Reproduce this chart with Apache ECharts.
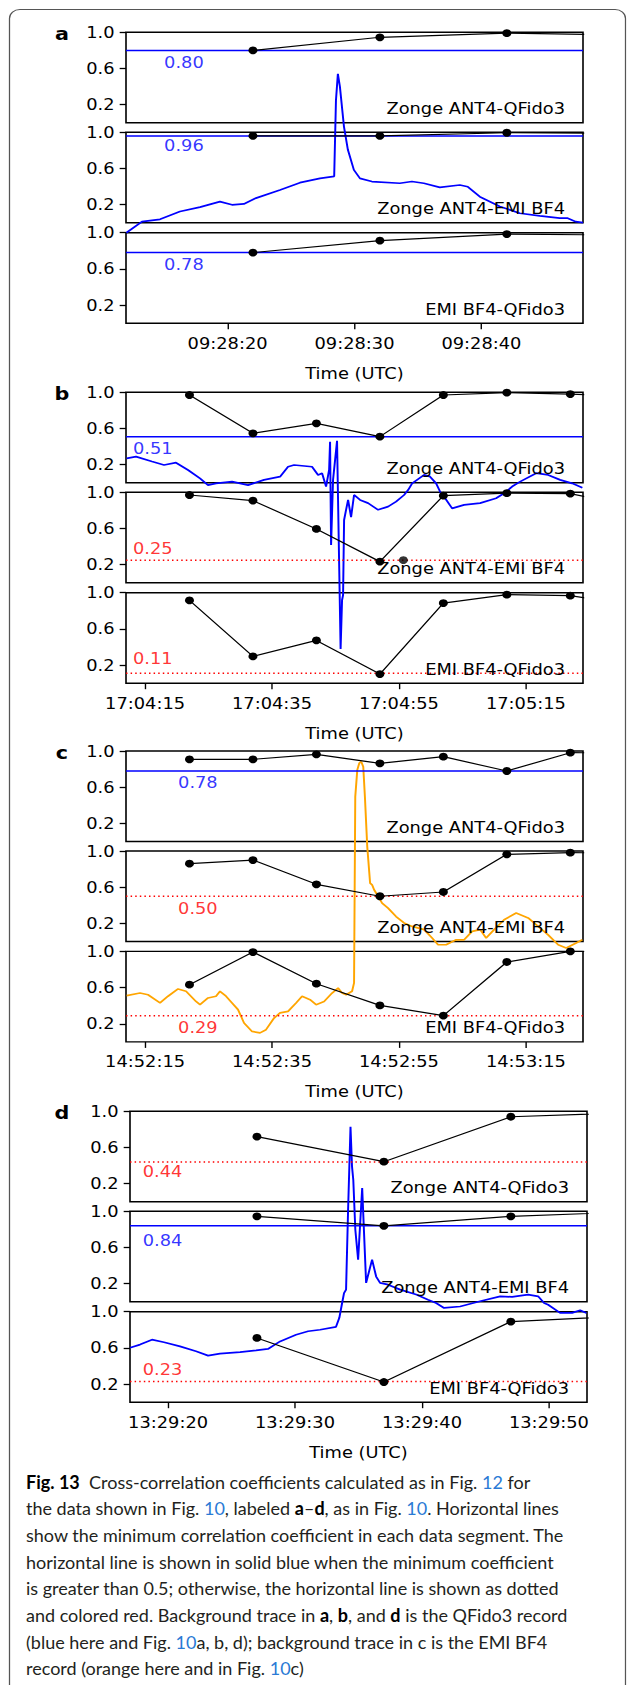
<!DOCTYPE html>
<html><head><meta charset="utf-8">
<script src="https://cdn.jsdelivr.net/npm/echarts@6/dist/echarts.min.js"></script>
<style>
html,body{margin:0;padding:0;background:#fff;overflow:hidden}
#wrap{width:627px;height:1685px;position:relative;overflow:hidden}
#c{position:absolute;left:0;top:0;height:1685px;transform-origin:0 0}
</style>
</head><body><div id="wrap"><div id="c"></div></div>
<script>
// ================= DATA =================
const panelLetters = ['a', 'b', 'c', 'd'];
const pairNames = ['Zonge ANT4-QFido3', 'Zonge ANT4-EMI BF4', 'EMI BF4-QFido3'];

// x ranges (seconds after the minute of the first tick)
const xRanges = [[12, 48], [12, 84], [12, 84], [17, 53]];
const aTickSec = [20, 30, 40];      const aTickLabels = ['09:28:20', '09:28:30', '09:28:40'];
const bTickSec = [15, 35, 55, 75];  const bTickLabels = ['17:04:15', '17:04:35', '17:04:55', '17:05:15'];
const cTickSec = [15, 35, 55, 75];  const cTickLabels = ['14:52:15', '14:52:35', '14:52:55', '14:53:15'];
const dTickSec = [20, 30, 40, 50];  const dTickLabels = ['13:29:20', '13:29:30', '13:29:40', '13:29:50'];
const yTicks = [0.2, 0.6, 1.0];

// correlation coefficients (window centre times, seconds)
const aTimes = [22, 32, 42, 52];
const aCoef1 = [0.80, 0.945, 0.99, 0.97];
const aCoef2 = [0.96, 0.96, 0.995, 0.987];
const aCoef3 = [0.78, 0.912, 0.985, 0.973];
const bTimes = [22, 32, 42, 52, 62, 72, 82, 92];
const bCoef1 = [0.97, 0.547, 0.657, 0.51, 0.97, 0.996, 0.98, 0.96];
const bCoef2 = [0.97, 0.908, 0.595, 0.234, 0.963, 0.99, 0.985, 0.845];
const bCoef3 = [0.915, 0.296, 0.473, 0.101, 0.885, 0.978, 0.967, 0.865];
const bExtraT = [55.7];
const bExtraV = [0.25];
const cTimes = [22, 32, 42, 52, 62, 72, 82, 92];
const cCoef1 = [0.908, 0.908, 0.963, 0.864, 0.937, 0.779, 0.981, 0.98];
const cCoef2 = [0.86, 0.90, 0.632, 0.50, 0.547, 0.963, 0.981, 0.98];
const cCoef3 = [0.632, 0.993, 0.643, 0.403, 0.29, 0.883, 1.0, 1.0];
const dTimes = [27, 37, 47, 57];
const dCoef1 = [0.72, 0.443, 0.94, 0.985];
const dCoef2 = [0.945, 0.84, 0.945, 0.995];
const dCoef3 = [0.71, 0.223, 0.89, 0.957];

// minimum coefficient per data segment
const aMin = [0.80, 0.96, 0.78];
const bMin = [0.51, 0.25, 0.11];
const cMin = [0.78, 0.50, 0.29];
const dMin = [0.44, 0.84, 0.23];
const minLabelT = [15, 13.1, 20.2, 18];
const aMinSide = [1, 0.8, 1];     // + below line, - above
const bMinSide = [1, -1, -1.2];
const cMinSide = [1, 1, 1];
const dMinSide = [0.8, 1.25, -1];

// background traces (normalised amplitude across whole panel height)
const aTraceT = [12.03, 13.26, 14.68, 16.25, 17.83, 19.40, 20.35, 21.29, 22.24, 24.13, 25.70, 27.28, 28.40, 28.54, 28.69, 28.85, 29.17, 29.48, 29.95, 30.43, 31.37, 33.57, 34.52, 35.46, 36.72, 38.30, 38.93, 39.87, 41.45, 43.02, 44.60, 46.17, 46.80, 47.43, 48.0];
const aTraceV = [0.311, 0.349, 0.357, 0.384, 0.399, 0.418, 0.407, 0.41, 0.43, 0.458, 0.483, 0.498, 0.505, 0.767, 0.857, 0.813, 0.676, 0.596, 0.527, 0.498, 0.487, 0.481, 0.487, 0.481, 0.467, 0.475, 0.469, 0.435, 0.401, 0.378, 0.369, 0.361, 0.361, 0.349, 0.346];
const bTraceT = [12.1, 13.58, 16.10, 17.99, 19.88, 21.77, 23.66, 24.92, 26.18, 28.71, 31.23, 33.75, 36.27, 37.53, 38.48, 41.31, 42.26, 42.89, 43.52, 44.0, 44.15, 44.31, 44.62, 45.25, 45.57, 45.81, 46.04, 46.20, 46.36, 46.67, 46.99, 47.46, 47.93, 48.88, 50.14, 51.72, 53.29, 54.55, 55.81, 56.44, 57.08, 58.97, 59.91, 60.86, 61.49, 62.12, 63.38, 65.27, 67.79, 70.31, 71.57, 72.84, 74.10, 76.62, 78.51, 80.40, 82.29, 83.9];
const bTraceV = [0.773, 0.779, 0.762, 0.750, 0.758, 0.733, 0.704, 0.681, 0.687, 0.693, 0.681, 0.699, 0.710, 0.744, 0.750, 0.744, 0.716, 0.722, 0.676, 0.733, 0.830, 0.475, 0.699, 0.833, 0.424, 0.118, 0.286, 0.303, 0.561, 0.596, 0.630, 0.571, 0.647, 0.630, 0.619, 0.596, 0.607, 0.624, 0.647, 0.664, 0.687, 0.716, 0.710, 0.687, 0.658, 0.641, 0.601, 0.613, 0.619, 0.636, 0.653, 0.676, 0.693, 0.722, 0.716, 0.699, 0.687, 0.672];
const cTraceT = [12.1, 14.21, 15.47, 17.36, 18.62, 20.20, 21.46, 23.03, 23.66, 24.92, 26.18, 26.81, 27.76, 28.71, 29.65, 30.60, 31.86, 33.12, 34.06, 35.33, 36.27, 37.53, 38.79, 39.74, 41.0, 41.95, 43.21, 44.47, 45.41, 46.04, 46.67, 47.62, 47.93, 48.12, 48.44, 48.75, 49.07, 49.38, 49.64, 50.01, 50.46, 50.77, 51.09, 51.72, 52.35, 53.29, 54.55, 55.81, 57.08, 58.97, 60.23, 61.17, 62.43, 64.01, 65.27, 66.53, 67.79, 68.74, 70.0, 71.57, 73.47, 75.36, 76.93, 78.51, 80.09, 81.35, 82.92, 83.9];
const cTraceV = [0.159, 0.168, 0.162, 0.134, 0.157, 0.182, 0.174, 0.139, 0.128, 0.151, 0.157, 0.174, 0.157, 0.134, 0.111, 0.065, 0.036, 0.031, 0.042, 0.082, 0.10, 0.105, 0.134, 0.157, 0.145, 0.128, 0.139, 0.168, 0.185, 0.168, 0.162, 0.174, 0.203, 0.843, 0.935, 0.958, 0.963, 0.946, 0.843, 0.671, 0.546, 0.540, 0.523, 0.50, 0.477, 0.460, 0.431, 0.409, 0.397, 0.386, 0.357, 0.334, 0.334, 0.351, 0.351, 0.380, 0.386, 0.357, 0.386, 0.420, 0.443, 0.426, 0.397, 0.368, 0.334, 0.323, 0.340, 0.351];
const dTraceT = [17.0, 17.79, 18.73, 19.68, 20.94, 22.20, 23.15, 24.09, 25.67, 26.93, 27.87, 28.82, 30.08, 31.03, 31.97, 33.23, 33.49, 33.71, 33.86, 34.02, 34.18, 34.37, 34.49, 34.59, 34.75, 34.97, 35.29, 35.60, 36.07, 36.39, 36.70, 37.33, 38.28, 39.54, 40.48, 41.11, 41.74, 43.0, 44.58, 46.16, 47.10, 48.36, 49.15, 49.62, 49.94, 50.88, 51.83, 52.46, 52.95];
const dTraceV = [0.187, 0.198, 0.215, 0.206, 0.192, 0.175, 0.160, 0.167, 0.172, 0.178, 0.183, 0.209, 0.232, 0.244, 0.249, 0.259, 0.290, 0.341, 0.375, 0.387, 0.661, 0.947, 0.810, 0.764, 0.593, 0.490, 0.736, 0.410, 0.490, 0.432, 0.410, 0.404, 0.387, 0.370, 0.352, 0.341, 0.324, 0.329, 0.347, 0.364, 0.362, 0.370, 0.364, 0.341, 0.335, 0.307, 0.307, 0.316, 0.307];

// ================= LAYOUT / STYLE =================
// The reference figure is slightly stretched horizontally: draw narrower, then scale in x.
const K = 1.15;
const W = 627, H = 1685;
const hx = v => v / K;   // horizontal page px -> chart px
const panelTop = [32.3, 392.3, 751, 1111.3];
const panelLeft = [126, 126, 126, 130];
const subOffset = [0, 100, 200.4];
const subH = 90.5, plotW = 457;
const FONT = 'DejaVu Sans';
const FS = 15.5;
const BLUE = '#0000ff', RED = '#ff0000';

const el = document.getElementById('c');
el.style.width = (W / K) + 'px';
el.style.transform = 'scaleX(' + K + ')';

const panels = [
  {times: aTimes, coefs: [aCoef1, aCoef2, aCoef3], mins: aMin, sides: aMinSide, ticks: aTickSec, labels: aTickLabels, tT: aTraceT, tV: aTraceV, tColor: BLUE},
  {times: bTimes, coefs: [bCoef1, bCoef2, bCoef3], mins: bMin, sides: bMinSide, ticks: bTickSec, labels: bTickLabels, tT: bTraceT, tV: bTraceV, tColor: BLUE},
  {times: cTimes, coefs: [cCoef1, cCoef2, cCoef3], mins: cMin, sides: cMinSide, ticks: cTickSec, labels: cTickLabels, tT: cTraceT, tV: cTraceV, tColor: '#ffa500'},
  {times: dTimes, coefs: [dCoef1, dCoef2, dCoef3], mins: dMin, sides: dMinSide, ticks: dTickSec, labels: dTickLabels, tT: dTraceT, tV: dTraceV, tColor: BLUE}
];

const grid = [], xAxis = [], yAxis = [], series = [], graphic = [];
const zip = (a, b) => a.map((v, i) => [v, b[i]]);

panels.forEach((P, p) => {
  const [xmin, xmax] = xRanges[p];
  const gl = hx(panelLeft[p]), gw = hx(plotW);
  // overlay grid for the background trace
  const og = grid.length;
  grid.push({left: gl, top: panelTop[p], width: gw, height: subOffset[2] + subH, show: false});
  xAxis.push({gridIndex: og, type: 'value', min: xmin, max: xmax, show: false});
  yAxis.push({gridIndex: og, type: 'value', min: 0, max: 1, show: false});
  series.push({type: 'line', xAxisIndex: og, yAxisIndex: og, data: zip(P.tT, P.tV), showSymbol: false, symbol: 'none',
    lineStyle: {color: P.tColor, width: 1.7}, z: 1, silent: true, animation: false});

  for (let s = 0; s < 3; s++) {
    const gi = grid.length;
    const top = panelTop[p] + subOffset[s];
    grid.push({left: gl, top: top, width: gw, height: subH, show: true,
      borderColor: '#000', borderWidth: 1.4, backgroundColor: 'transparent'});
    const bottom = s === 2;
    xAxis.push({gridIndex: gi, type: 'value', min: xmin, max: xmax,
      axisLine: {show: false}, splitLine: {show: false},
      axisTick: {show: bottom, inside: false, length: 6, lineStyle: {color: '#000', width: 1.2}, customValues: P.ticks},
      axisLabel: {show: bottom, customValues: P.ticks, margin: 12, color: '#000', fontSize: FS, fontFamily: FONT,
        formatter: v => P.labels[P.ticks.indexOf(v)]},
      name: bottom ? 'Time (UTC)' : '', nameLocation: 'middle', nameGap: 42,
      nameTextStyle: {color: '#000', fontSize: FS, fontFamily: FONT}});
    yAxis.push({gridIndex: gi, type: 'value', min: 0, max: 1,
      axisLine: {show: false}, splitLine: {show: false},
      axisTick: {show: true, inside: false, length: 5.5, lineStyle: {color: '#000', width: 1.3}, customValues: yTicks},
      axisLabel: {show: true, customValues: yTicks, margin: 10, color: '#000', fontSize: FS, fontFamily: FONT,
        formatter: v => v.toFixed(1)}});

    const m = P.mins[s];
    const good = m > 0.5;
    const col = good ? BLUE : RED;
    series.push({type: 'line', xAxisIndex: gi, yAxisIndex: gi, data: [[xmin, m], [xmax, m]], symbol: 'none',
      lineStyle: {color: col, width: 1.5, type: good ? 'solid' : [1.3, 2.7]}, z: 2, silent: true, animation: false});
    series.push({type: 'line', xAxisIndex: gi, yAxisIndex: gi, data: zip(P.times, P.coefs[s]),
      symbol: 'circle', symbolSize: 7.8, showSymbol: true, showAllSymbol: true, clip: true,
      itemStyle: {color: '#000'}, lineStyle: {color: '#000', width: 1.2}, z: 4, silent: true, animation: false});
    series.push({type: 'scatter', xAxisIndex: gi, yAxisIndex: gi, data: [[minLabelT[p], m]], symbolSize: 0,
      label: {show: true, position: [0, 12 * P.sides[s]], align: 'left', verticalAlign: 'middle',
        formatter: () => m.toFixed(2), color: col, fontSize: FS, fontFamily: FONT}, z: 5, silent: true, animation: false});
    if (p === 1 && s === 1) {
      series.push({type: 'scatter', xAxisIndex: gi, yAxisIndex: gi, data: zip(bExtraT, bExtraV), symbolSize: 7.8,
        itemStyle: {color: '#000'}, z: 4, silent: true, animation: false});
    }
    graphic.push({type: 'text', x: gl + gw - hx(18), y: top + subH - 14,
      style: {text: pairNames[s], fill: '#000', font: FS + 'px "' + FONT + '"', textAlign: 'right', textVerticalAlign: 'middle'}, z: 10});
  }
  graphic.push({type: 'text', x: hx(62), y: panelTop[p] + 2,
    style: {text: panelLetters[p], fill: '#000', font: 'bold 18px "' + FONT + '"', textAlign: 'center', textVerticalAlign: 'middle'}, z: 10});
});

// frame
graphic.push({type: 'rect', shape: {x: hx(9.5), y: 9.5, width: hx(616), height: 1700, r: 9},
  style: {fill: 'none', stroke: '#555', lineWidth: 1.1}, z: 0});

// caption (undo the horizontal stretch for the caption text)
const capLines = [
  '{b|Fig. 13}  Cross-correlation coefficients calculated as in Fig. {l|12} for',
  'the data shown in Fig. {l|10}, labeled {b|a}–{b|d}, as in Fig. {l|10}. Horizontal lines',
  'show the minimum correlation coefficient in each data segment. The',
  'horizontal line is shown in solid blue when the minimum coefficient',
  'is greater than 0.5; otherwise, the horizontal line is shown as dotted',
  'and colored red. Background trace in {b|a}, {b|b}, and {b|d} is the QFido3 record',
  '(blue here and Fig. {l|10}a, b, d); background trace in c is the EMI BF4',
  'record (orange here and in Fig. {l|10}c)'
];
const CAPFONT = 'Lato';
capLines.forEach((t, i) => {
  graphic.push({type: 'text', x: hx(26), y: 1481.7 + i * 26.65, scaleX: 1 / K,
    style: {text: t, fill: '#231f20', font: '18px "' + CAPFONT + '"', textVerticalAlign: 'middle',
      rich: {b: {fontWeight: 'bold', fontSize: 18, fontFamily: CAPFONT, fill: '#000'}, l: {fill: '#2a7ad5', fontSize: 18, fontFamily: CAPFONT}}}, z: 10});
});

const chart = echarts.init(el, null, {renderer: 'svg', width: W / K, height: H});
chart.setOption({animation: false, backgroundColor: '#fff', grid, xAxis, yAxis, series, graphic});
</script></body></html>
